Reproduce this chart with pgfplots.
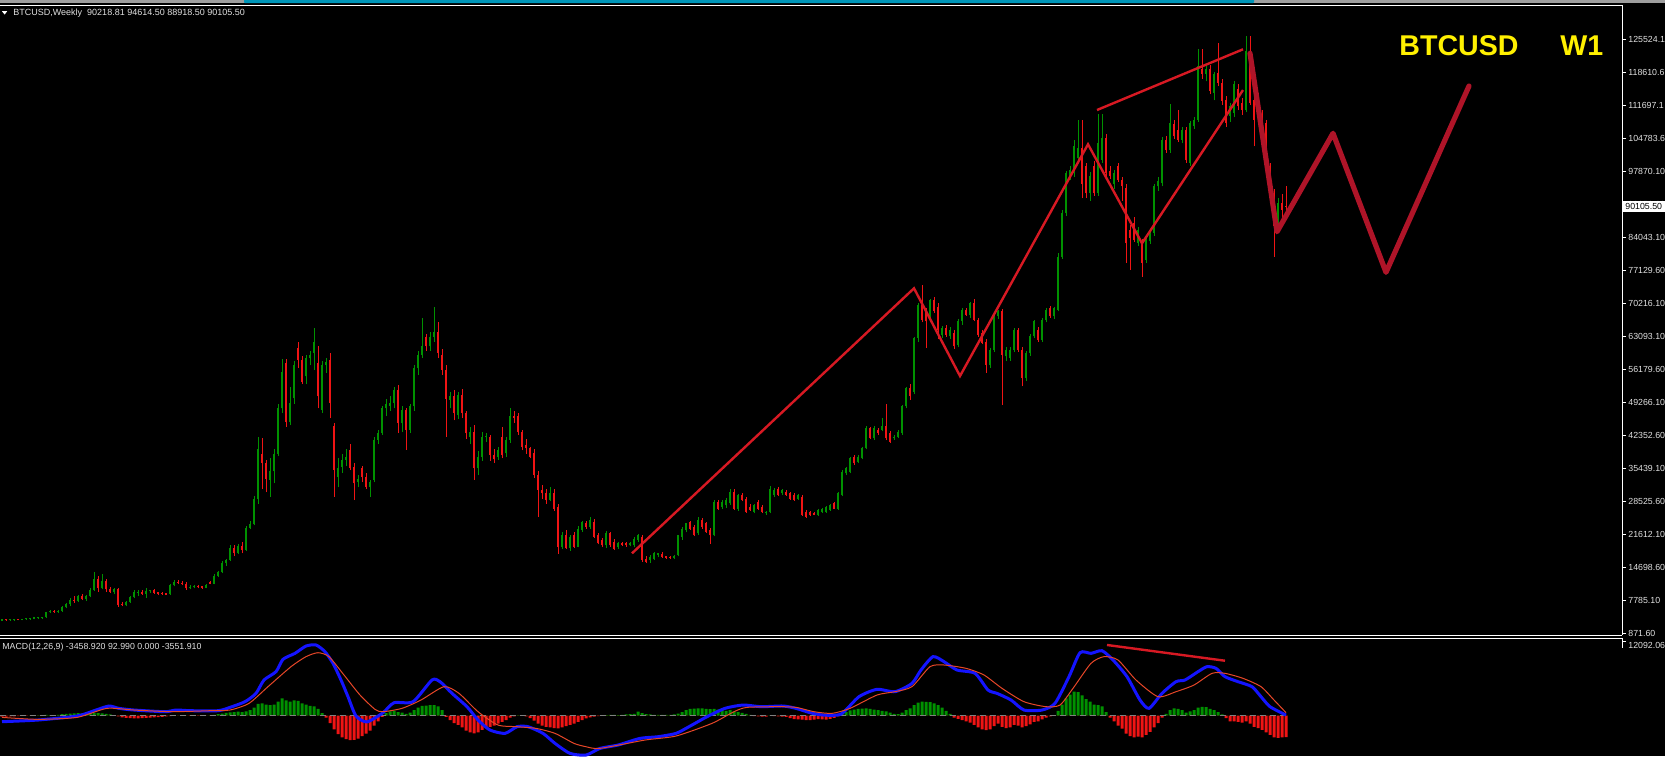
\documentclass[border=0pt]{standalone}
\usepackage{pgfplots}
\pgfplotsset{compat=1.18}
\usepackage{pgfplotstable}
\usepackage{fontspec}
\setmainfont{Liberation Sans}
\definecolor{cgreen}{RGB}{0,145,0}
\definecolor{cred}{RGB}{240,20,20}
\definecolor{tline}{RGB}{215,25,35}
\definecolor{zz}{RGB}{175,20,40}
\definecolor{sig}{RGB}{230,70,40}
\definecolor{ttl}{RGB}{255,240,0}
\definecolor{lbl}{RGB}{225,225,225}
\definecolor{tealbar}{RGB}{0,150,185}
\definecolor{macdblue}{RGB}{20,20,255}

\pgfplotstableread{
x o h l c
2 3500 3700 3400 3650
6 3650 3750 3550 3600
10 3600 3700 3500 3650
14 3650 3800 3550 3700
18 3700 3850 3600 3650
22 3650 3850 3600 3800
26 3800 3950 3700 3850
30 3850 4000 3750 3900
34 3900 4100 3800 4000
38 4000 4150 3900 4050
42 4050 4300 3950 4200
46 4200 5400 4100 5300
50 5300 5700 5100 5500
54 5500 5800 5200 5350
58 5350 5700 5200 5600
62 5600 6600 5400 6300
66 6300 7300 6100 7000
70 7000 8200 6500 7900
74 7900 8600 7300 7600
78 7600 9000 7400 8700
82 8700 9100 7800 8100
86 8100 9000 7700 8600
90 8600 10300 8400 10000
94 10000 13700 9800 12300
98 12300 12800 9600 10400
102 10400 13400 10100 11900
106 11900 12200 9500 10100
110 10100 10600 9300 9500
114 9500 10400 9100 10200
118 10100 10300 6400 6900
122 6900 7400 6500 6700
126 6700 7700 6500 7400
130 7400 8700 7200 8400
134 8400 10000 8200 9600
138 9300 9900 8700 9600
142 9600 10000 9000 9200
146 9200 10300 8300 9700
150 9700 10000 9400 9900
154 9900 10100 9200 9400
158 9400 9600 9000 9200
162 9200 9500 9000 9100
166 9100 9300 8900 9000
170 9100 11200 9000 10900
174 10900 12000 10700 11600
178 11600 12100 11200 11400
182 11400 11900 10900 11100
186 11100 11700 10000 10300
190 10300 10900 10100 10500
194 10500 10900 10300 10700
198 10700 10900 10300 10500
202 10500 10700 10200 10400
206 10400 11200 10300 11000
210 11500 11800 11100 11300
214 11300 13200 11100 12900
218 12900 13900 12700 13700
222 13700 16000 13500 15600
226 15600 16500 15000 16200
230 16200 19300 16000 18800
234 18800 19400 17000 17700
238 17700 19500 17500 19100
242 19100 19900 17600 18300
246 18300 23300 18200 23000
250 23000 24500 22700 23700
254 23700 29600 23500 29000
258 29000 42000 28000 39500
262 38500 41800 31000 36500
266 36500 37200 30400 33200
270 33000 37500 29500 34800
274 34800 39500 32300 38500
278 38500 49000 38000 48000
282 48000 58300 47000 55600
286 57500 58300 44100 45100
290 45100 52500 44500 49100
294 50100 58000 49000 57100
298 60700 61800 56500 58200
302 58200 59000 53000 53500
306 54700 59200 53000 58500
310 58500 60000 57000 59200
314 59600 64800 56000 62000
318 57500 61000 48000 50500
322 47700 58000 47000 57100
326 57100 58500 55500 57800
330 58200 59500 45900 49100
334 44200 45000 29500 35100
338 33700 37500 31500 35400
342 35800 38500 34500 37200
346 37200 39500 36000 37900
350 39300 40500 35000 35500
354 35800 36500 28800 32300
358 32600 34000 31500 33300
362 35400 36000 32500 33700
366 33700 34500 31000 31600
370 31600 33000 29500 32600
374 33000 42000 32500 41400
378 41400 43500 40500 42800
382 42800 48500 42500 48000
386 48000 50000 46500 49000
390 48500 50500 47500 49100
394 49100 52500 48000 51900
398 51900 52900 42800 44900
402 44900 48500 43000 47700
406 47700 48000 39300 43500
410 43500 49000 42800 48400
414 48400 57000 47500 56400
418 56400 60000 55000 59200
422 59200 67000 58500 61000
426 63000 63500 60000 61000
430 61000 64000 60000 63000
434 63000 69300 62000 64100
438 64100 66000 58500 59600
442 59200 60500 55000 56000
446 56000 57000 42100 50000
450 49800 51500 48000 50500
454 50500 51800 45500 47000
458 46600 51500 45800 50800
462 50800 52000 46000 47000
466 47000 47500 41500 42800
470 42000 44000 40500 43100
474 43100 44500 33000 35400
478 35400 39000 34000 37900
482 37900 43000 37000 42000
486 42000 42800 41000 42300
490 42100 42500 37000 38200
494 38200 39500 36500 37300
498 37900 40000 37200 39300
502 42100 44000 37500 38200
506 38600 42000 37800 41400
510 41400 48000 40800 46300
514 46300 47500 45000 46000
518 46300 47000 42500 43100
522 43100 43500 39200 40000
526 40300 41500 38500 39600
530 39600 40000 37500 37900
534 38600 39500 33500 34000
538 34000 34800 25300 30900
542 30900 32000 29000 30200
546 30200 31000 28000 28800
550 28800 31500 28500 30200
554 30200 31000 26500 27000
558 27400 28000 17500 19000
562 19000 22000 18500 21400
566 21400 22500 18500 18700
570 18700 21500 18200 21100
574 21400 22000 18700 19000
578 19000 23300 18900 22800
582 22500 24500 22200 24200
586 23900 24400 22800 23200
590 23200 25200 22700 24600
594 24200 24800 20800 21100
598 21400 21900 19500 19700
602 20400 20800 18900 19300
606 19300 22300 18700 21800
610 21800 22000 19000 19300
614 20000 20600 18300 18600
618 19000 19900 18500 19700
622 19700 19900 19200 19400
626 19700 20000 19000 19300
630 19300 20000 19100 19700
634 19300 21000 18900 20700
638 20400 21600 20000 21400
642 21100 21400 15800 16200
646 16500 17000 15500 15800
650 16200 17200 15700 16900
654 16500 17900 16200 17600
658 17300 17600 16800 17500
662 17400 18000 16700 16900
666 16900 17100 16500 16700
670 16800 17000 16400 16600
674 16600 17200 16400 17100
678 17200 21500 17000 21400
682 21100 23200 20500 22800
686 22500 24000 22000 23900
690 24200 24500 22500 22800
694 23200 23500 21200 21400
698 21800 25200 21500 24600
702 24600 25000 22800 23200
706 23900 24200 21900 22100
710 22500 23000 19600 21400
714 21400 28800 21200 28400
718 28400 28900 26800 27000
722 27400 28800 26900 28400
726 27700 29200 27200 28800
730 28100 31000 27800 30500
734 30500 31000 26800 27000
738 27000 30000 26600 29800
742 29800 30200 28500 28800
746 29100 29500 26100 26300
750 27400 28000 26500 26700
754 26300 28000 26000 27700
758 28400 28800 26800 27000
762 27400 27700 26100 26300
766 26000 26500 25700 26300
770 26300 31800 26000 31200
774 29800 31400 29500 30900
778 31200 31500 29600 29800
782 30200 31200 29800 30900
786 30500 30800 29600 29800
790 30200 30500 28900 29100
794 29800 30200 28600 28800
798 29100 30000 28900 29800
802 29500 29800 25500 25600
806 26300 26700 25100 25300
810 26300 26600 25400 25600
814 25900 26200 25600 25700
818 25600 27000 25500 26700
822 26300 27200 26100 27000
826 26300 27600 26100 27400
830 26700 28000 26500 27700
834 28100 28300 26900 27000
838 27000 30500 26800 30200
842 29800 35000 29600 34700
846 34400 35800 34000 35400
850 34700 37900 34400 37500
854 37900 38200 36200 36500
858 36800 38200 36500 37900
862 37500 40000 37300 39600
866 39600 44200 39400 43800
870 43800 44100 41500 41700
874 41700 44200 41400 43800
878 43500 43800 42500 42800
882 43500 45900 43200 44200
886 44200 49000 41300 41700
890 42800 43200 40800 41000
894 41700 42400 41400 42100
898 42100 43500 41800 43100
902 42800 48700 42500 48400
906 48400 52500 48000 52200
910 52200 53000 49800 50500
914 51500 63000 51000 62800
918 62800 70000 62000 69700
922 69700 73900 66000 66500
926 68600 69000 60600 66200
930 66900 71000 66000 70700
934 70700 71300 68000 68400
938 69300 70000 62500 64400
942 63400 65300 62800 64800
946 64800 65400 63000 63400
950 63100 65000 62500 64400
954 63800 64500 60500 61000
958 61300 66700 60800 66200
962 66200 69000 65500 68600
966 68600 69000 67300 67600
970 67600 70300 67000 70000
974 70000 71000 66200 66500
978 66500 67000 63000 63400
982 63800 64500 61400 61700
986 62000 62500 55500 57100
990 57100 60700 56500 60300
994 60300 67900 59800 67600
998 67300 68700 66800 68400
1002 68400 68800 48700 59200
1006 58900 60800 58000 60300
1010 58500 60800 58000 60300
1014 60300 64800 59800 64400
1018 64400 64900 59800 60300
1022 60300 60800 52600 54400
1026 54400 60100 53800 59600
1030 59600 63500 59000 63100
1034 63100 66600 62700 66300
1038 64400 65000 62000 62300
1042 62300 66900 62000 66500
1046 66500 69000 66000 68700
1050 69000 69500 66900 67300
1054 67300 69300 66800 69000
1058 68700 80500 68300 79800
1062 79800 89600 79300 88900
1066 88900 97800 88300 97300
1070 96600 98700 95800 98000
1074 97300 104300 96500 102900
1078 100500 108500 99800 102600
1082 102600 108500 92000 95000
1086 98700 99500 92000 93100
1090 93100 97500 91500 96600
1094 98700 99800 92500 93100
1098 93100 109600 92500 103600
1102 100100 109600 99500 104700
1106 104700 105500 96500 97300
1110 97700 98700 96000 96600
1114 94900 98000 94000 97300
1118 98700 99500 95500 95900
1122 95900 96500 91500 94500
1126 94200 95000 78400 82600
1130 85400 86500 77000 83700
1134 86800 88000 82800 83300
1138 82600 86000 82000 85400
1142 82600 83500 75600 78400
1146 79100 84000 78500 83300
1150 83000 85200 82500 84700
1154 84700 95000 84200 94500
1158 94500 96500 93500 95600
1162 95200 104800 94500 104300
1166 104300 105000 101500 102200
1170 102200 111700 101500 107800
1174 107500 108500 104500 105000
1178 106400 110600 103800 104300
1182 104300 107000 103500 106400
1186 106400 107000 99500 100100
1190 99400 108300 98800 107800
1194 107100 109000 106500 108500
1198 108500 123200 108000 119700
1202 119000 123200 117000 118000
1206 118000 119800 116500 119000
1210 119000 120000 113800 114500
1214 114100 118500 112500 118000
1218 118300 124500 115500 116200
1222 116200 117000 111500 112400
1226 112700 113500 107000 107800
1230 109200 112000 108000 111300
1234 109900 116500 109000 115900
1238 114800 116000 110500 111300
1242 112000 113000 109500 110600
1246 110600 126000 110000 122800
1250 122800 126000 111500 112000
1254 112700 113500 102900 108500
1258 113400 114000 109000 109900
1262 109200 110500 105500 106400
1266 107800 108500 98000 98700
1270 98700 99500 92500 93100
1274 93100 94000 79800 86100
1278 87500 92000 86500 91000
1282 91000 93000 87000 89600
1286 90218.81 94614.5 88918.5 90105.5
}\candles

\pgfplotstableread[row sep=\\]{
x v\\
2 -150\\ 6 -150\\ 10 -120\\ 14 -100\\ 18 -60\\ 22 -40\\ 26 -20\\ 30 20\\ 34 40\\ 38 60\\
42 80\\ 46 120\\ 50 100\\ 54 80\\ 58 150\\ 62 250\\ 66 300\\ 70 350\\ 74 380\\ 78 400\\
82 380\\ 86 350\\ 90 380\\ 94 420\\ 98 400\\ 102 380\\ 106 300\\ 110 200\\ 114 80\\ 118 -100\\
122 -250\\ 126 -350\\ 130 -400\\ 134 -430\\ 138 -420\\ 142 -380\\ 146 -350\\ 150 -300\\ 154 -250\\ 158 -220\\
162 -180\\ 166 -120\\ 170 -60\\ 174 -20\\ 178 20\\ 182 40\\ 186 30\\ 190 -20\\ 194 -40\\ 198 -30\\
202 -20\\ 206 30\\ 210 60\\ 214 150\\ 218 250\\ 222 350\\ 226 450\\ 230 550\\ 234 600\\ 238 650\\
242 600\\ 246 700\\ 250 900\\ 254 1300\\ 258 1900\\ 262 2000\\ 266 1800\\ 270 1700\\ 274 1800\\ 278 2300\\
282 2800\\ 286 2500\\ 290 2300\\ 294 2500\\ 298 2400\\ 302 2000\\ 306 1800\\ 310 1600\\ 314 1500\\ 318 1100\\
322 400\\ 326 -300\\ 330 -1200\\ 334 -2200\\ 338 -3000\\ 342 -3500\\ 346 -3800\\ 350 -3940\\ 354 -3900\\ 358 -3700\\
362 -3300\\ 366 -2900\\ 370 -2400\\ 374 -1600\\ 378 -900\\ 382 -200\\ 386 400\\ 390 700\\ 394 800\\ 398 600\\
402 500\\ 406 300\\ 410 500\\ 414 900\\ 418 1300\\ 422 1600\\ 426 1650\\ 430 1700\\ 434 1730\\ 438 1500\\
442 900\\ 446 -200\\ 450 -700\\ 454 -1200\\ 458 -1500\\ 462 -1900\\ 466 -2400\\ 470 -2700\\ 474 -2860\\ 478 -2700\\
482 -2300\\ 486 -2000\\ 490 -1800\\ 494 -1600\\ 498 -1300\\ 502 -1000\\ 506 -700\\ 510 -300\\ 514 -100\\ 518 50\\
522 80\\ 526 -100\\ 530 -400\\ 534 -800\\ 538 -1300\\ 542 -1600\\ 546 -1800\\ 550 -1900\\ 554 -2000\\ 558 -2050\\
562 -1900\\ 566 -1700\\ 570 -1500\\ 574 -1300\\ 578 -1000\\ 582 -700\\ 586 -450\\ 590 -250\\ 594 -150\\ 598 -80\\
602 50\\ 606 80\\ 610 120\\ 614 150\\ 618 110\\ 622 150\\ 626 200\\ 630 250\\ 634 300\\ 638 650\\
642 400\\ 646 250\\ 650 200\\ 654 150\\ 658 150\\ 662 150\\ 666 140\\ 670 120\\ 674 200\\ 678 350\\
682 600\\ 686 900\\ 690 1100\\ 694 1150\\ 698 1190\\ 702 1190\\ 706 1100\\ 710 1050\\ 714 1100\\ 718 1000\\
722 900\\ 726 800\\ 730 900\\ 734 700\\ 738 600\\ 742 450\\ 746 300\\ 750 150\\ 754 -50\\ 758 -100\\
762 -150\\ 766 -160\\ 770 50\\ 774 -50\\ 778 -100\\ 782 -150\\ 786 -200\\ 790 -400\\ 794 -550\\ 798 -600\\
802 -650\\ 806 -700\\ 810 -700\\ 814 -650\\ 818 -550\\ 822 -600\\ 826 -650\\ 830 -500\\ 834 -350\\ 838 -100\\
842 300\\ 846 600\\ 850 850\\ 854 1000\\ 858 1100\\ 862 1150\\ 866 1190\\ 870 1100\\ 874 1000\\ 878 900\\
882 800\\ 886 700\\ 890 500\\ 894 300\\ 898 250\\ 902 500\\ 906 900\\ 910 1200\\ 914 1700\\ 918 2100\\
922 2300\\ 926 2250\\ 930 2200\\ 934 2000\\ 938 1700\\ 942 1300\\ 946 800\\ 950 300\\ 954 -300\\ 958 -500\\
962 -700\\ 966 -900\\ 970 -1100\\ 974 -1500\\ 978 -1900\\ 982 -2200\\ 986 -2320\\ 990 -2200\\ 994 -1700\\ 998 -1300\\
1002 -1800\\ 1006 -2000\\ 1010 -1900\\ 1014 -1500\\ 1018 -1600\\ 1022 -1900\\ 1026 -1700\\ 1030 -1400\\ 1034 -1000\\ 1038 -900\\
1042 -600\\ 1046 -300\\ 1050 -100\\ 1054 100\\ 1058 800\\ 1062 1800\\ 1066 2800\\ 1070 3400\\ 1074 3890\\ 1078 3800\\
1082 3300\\ 1086 2700\\ 1090 2300\\ 1094 1800\\ 1098 1700\\ 1102 1500\\ 1106 600\\ 1110 -300\\ 1114 -900\\ 1118 -1600\\
1122 -2100\\ 1126 -2900\\ 1130 -3300\\ 1134 -3500\\ 1138 -3400\\ 1142 -3500\\ 1146 -3100\\ 1150 -2600\\ 1154 -1900\\ 1158 -1200\\
1162 -300\\ 1166 300\\ 1170 900\\ 1174 1190\\ 1178 1100\\ 1182 900\\ 1186 500\\ 1190 700\\ 1194 900\\ 1198 1300\\
1202 1450\\ 1206 1400\\ 1210 1100\\ 1214 900\\ 1218 600\\ 1222 200\\ 1226 -400\\ 1230 -900\\ 1234 -900\\ 1238 -1000\\
1242 -1100\\ 1246 -900\\ 1250 -1300\\ 1254 -1800\\ 1258 -2000\\ 1262 -2300\\ 1266 -2700\\ 1270 -3100\\ 1274 -3500\\ 1278 -3600\\
1282 -3500\\ 1286 -3459\\
}\hist

\begin{document}
\begin{tikzpicture}
\fill[black] (0pt,0pt) rectangle (832.5pt,-378pt);
\useasboundingbox (0pt,0pt) rectangle (832.5pt,-378pt);
\fill[black!38] (0pt,0pt) rectangle (832.5pt,-1.5pt);
\fill[tealbar, rounded corners=0.6pt] (122pt,0.5pt) rectangle (627pt,-1.6pt);

\begin{axis}[
  at={(0pt,-2.5pt)}, anchor=north west,
  scale only axis, width=811pt, height=315pt,
  xmin=0, xmax=1622, ymin=516, ymax=132500,
  axis x line=none, axis y line*=right,
  y axis line style={white, line width=0.5pt, -},
  scaled y ticks=false,
  ytick={871.6,7785.1,14698.6,21612.1,28525.6,35439.1,42352.6,49266.1,56179.6,63093.1,70006.6,76920.1,83833.6,90747.1,97660.6,104574.1,111487.6,118401.1,125314.6},
  yticklabels={871.60,7785.10,14698.60,21612.10,28525.60,35439.10,42352.60,49266.10,56179.60,63093.10,70216.10,77129.60,84043.10,90956.60,97870.10,104783.6,111697.1,118610.6,125524.1},
  tick align=outside, major tick length=2pt,
  ytick style={white, line width=0.5pt},
  yticklabel style={font=\fontsize{4.4pt}{5pt}\selectfont, text=lbl, anchor=west, inner sep=0pt, xshift=1pt},
]
% wicks
\addplot[cred, line width=0.5pt, mark=none, forget plot,
  quiver={u=0, v={\thisrow{c}<\thisrow{o} ? \thisrow{h}-\thisrow{l} : 0}}]
  table[x=x, y=l] {\candles};
\addplot[cgreen, line width=0.5pt, mark=none, forget plot,
  quiver={u=0, v={\thisrow{c}<\thisrow{o} ? 0 : \thisrow{h}-\thisrow{l}}}]
  table[x=x, y=l] {\candles};
% bodies
\addplot[cred, line width=1.45pt, mark=none, forget plot,
  quiver={u=0, v={\thisrow{c}<\thisrow{o} ? max(\thisrow{o}-\thisrow{c},300) : 0}}]
  table[x=x, y expr={min(\thisrow{o},\thisrow{c})}] {\candles};
\addplot[cgreen, line width=1.45pt, mark=none, forget plot,
  quiver={u=0, v={\thisrow{c}<\thisrow{o} ? 0 : max(\thisrow{c}-\thisrow{o},300)}}]
  table[x=x, y expr={min(\thisrow{o},\thisrow{c})}] {\candles};
% analysis lines
\addplot[tline, line width=1.2pt] coordinates {(632,17630) (914,73150) (960,54780) (1088,103320) (1142,82580) (1243,114690)};
\addplot[tline, line width=1.2pt] coordinates {(1097,110500) (1243,123220)};
\addplot[zz, line width=2.6pt, line join=round, line cap=round] coordinates {(1250,122380) (1277,85000) (1333,105620) (1386,76500) (1469,115530)};
\end{axis}

\begin{axis}[
  at={(0pt,-319pt)}, anchor=north west,
  scale only axis, width=811pt, height=59pt,
  xmin=0, xmax=1622, ymin=-6525, ymax=12580,
  axis lines=none,
]
\addplot[ybar, bar width=1.5pt, bar shift=0pt, fill=cgreen, draw=none, forget plot]
  table[x=x, y expr={\thisrow{v}>0 ? \thisrow{v} : 0}] {\hist};
\addplot[ybar, bar width=1.5pt, bar shift=0pt, fill=cred, draw=none, forget plot]
  table[x=x, y expr={\thisrow{v}<0 ? \thisrow{v} : 0}] {\hist};
\addplot[gray, densely dashed, line width=0.4pt] coordinates {(0,0) (1287,0)};
\addplot[macdblue, line width=1.5pt, smooth, tension=0.4] coordinates {
(2,-970) (38,-700) (77,-50) (96,920) (109,1570) (119,1190) (134,920) (165,650) (176,920) (191,810) (218,810) (230,1350) (245,2270) (256,3620) (264,5780) (276,7130) (283,9130) (295,10100) (306,11280) (316,11450) (325,10360) (333,8480) (341,5780) (348,3080) (356,-50) (367,-1000) (383,490) (394,2100) (413,2270) (432,5780) (440,5510) (452,3620) (467,1460) (478,-700) (490,-2320) (505,-2860) (517,-1780) (528,-1780) (543,-2860) (555,-4480) (570,-6100) (586,-6370) (600,-5290) (618,-4750) (640,-3670) (658,-3400) (676,-2860) (689,-1780) (707,-160) (725,1190) (743,1730) (761,1460) (783,1570) (796,1190) (810,490) (823,110) (841,270) (859,3080) (877,4270) (895,3890) (912,5240) (921,7400) (933,9560) (944,8750) (957,7400) (975,6860) (988,4160) (997,3620) (1011,2540) (1024,920) (1042,920) (1055,2000) (1069,6320) (1080,10200) (1091,10100) (1102,10520) (1113,9020) (1127,6320) (1140,2540) (1149,1190) (1162,3620) (1176,5510) (1185,5780) (1198,7130) (1207,7940) (1216,7670) (1225,6320) (1238,5510) (1252,4700) (1261,3080) (1270,1460) (1286,93)};
\addplot[sig, line width=0.5pt, smooth, tension=0.4] coordinates {
(2,-270) (38,-590) (77,-270) (107,1190) (134,920) (172,650) (210,810) (230,920) (249,2000) (268,4700) (291,7940) (306,9560) (318,10200) (329,9560) (344,6590) (360,3350) (375,1030) (383,650) (402,1190) (421,2540) (444,4700) (459,3620) (478,650) (498,-1510) (517,-1780) (536,-2050) (555,-2860) (574,-4480) (586,-5020) (600,-5290) (645,-3940) (676,-3290) (712,-1240) (734,650) (747,1350) (779,1460) (796,1350) (814,650) (832,380) (850,1190) (877,3350) (895,3890) (912,4700) (930,7940) (944,8210) (966,7670) (984,6590) (1002,4430) (1024,2270) (1046,1460) (1060,1730) (1073,4430) (1091,8480) (1104,9560) (1118,9020) (1136,5780) (1158,3080) (1176,3890) (1194,4970) (1212,6860) (1225,6860) (1243,6050) (1261,4700) (1274,2540) (1286,500)};
\addplot[tline, line width=1.2pt] coordinates {(1107,11450) (1225,8900)};
\end{axis}

% frame
\draw[white, line width=0.5pt] (0pt,-2.5pt) -- (811pt,-2.5pt);
\draw[white, line width=0.5pt] (0pt,-317.6pt) -- (811pt,-317.6pt);
\draw[white, line width=0.5pt] (0pt,-319pt) -- (811pt,-319pt);
\draw[white, line width=0.5pt] (811pt,-319pt) -- (811pt,-324pt);
\draw[white, line width=0.5pt] (811pt,-320.5pt) -- (813pt,-320.5pt);
\node[anchor=west, inner sep=0pt, text=lbl, font=\fontsize{4.4pt}{5pt}\selectfont] at (814pt,-322.6pt) {12092.06};
% current price box
\fill[white] (811.5pt,-100.5pt) rectangle (832.5pt,-106.2pt);
\node[anchor=west, inner sep=0pt, text=black, font=\fontsize{4.4pt}{5pt}\selectfont] at (812.5pt,-103.4pt) {90105.50};
% headers
\fill[white] (1pt,-5.6pt) -- (3.6pt,-5.6pt) -- (2.3pt,-7.3pt) -- cycle;
\node[anchor=west, inner sep=0pt, text=lbl, font=\fontsize{4.5pt}{5pt}\selectfont] at (6.5pt,-6.6pt) {BTCUSD,Weekly\ \ 90218.81 94614.50 88918.50 90105.50};
\node[anchor=west, inner sep=0pt, text=lbl, font=\fontsize{4.4pt}{5pt}\selectfont] at (1pt,-323.5pt) {MACD(12,26,9) -3458.920 92.990 0.000 -3551.910};
\node[anchor=west, inner sep=0pt, text=ttl, font=\fontsize{14.3pt}{16pt}\selectfont\bfseries] at (699.5pt,-23pt) {BTCUSD};
\node[anchor=west, inner sep=0pt, text=ttl, font=\fontsize{14.3pt}{16pt}\selectfont\bfseries] at (780pt,-23pt) {W1};
\end{tikzpicture}
\end{document}
